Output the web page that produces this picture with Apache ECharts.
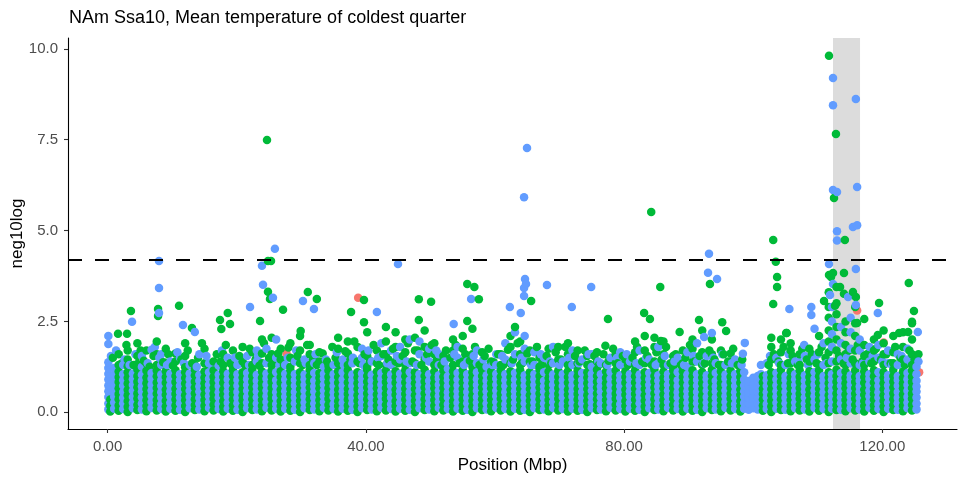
<!DOCTYPE html>
<html>
<head>
<meta charset="utf-8">
<script src="https://cdn.jsdelivr.net/npm/echarts@6/dist/echarts.min.js"></script>
<style>html,body{margin:0;padding:0;background:#fff}#c{width:958px;height:481px}</style>
</head>
<body>
<div id="c"></div>
<script>
// ---- data (Position in Mbp, neg10log) ----
const titleText = "NAm Ssa10, Mean temperature of coldest quarter";
const xTicks = [0, 40, 80, 120];
const yTicks = [0, 2.5, 5, 7.5, 10];
const threshold = 4.19;
const highlightRegion = [112.36, 116.55];

// dense band, green: [x, y1, y2, ...]
const greenCols = [
[0.4,0.02,0.18,0.35],
[1.7,0.04,0.19,0.36,0.5,0.66,0.83,0.97,1.12,1.3,1.6],
[3.1,0.01,0.15,0.31,0.47,0.62,0.79,0.95,1.1,1.27,1.45,1.7],
[4.6,0.06,0.21,0.38,0.52,0.69,0.84,1.0,1.18,1.33,1.55,1.9],
[6.0,0.03,0.17,0.33,0.49,0.64,0.8,0.96,1.14,1.35,1.7],
[7.6,0.05,0.2,0.34,0.51,0.67,0.82,0.99,1.15,1.3,1.6,1.95],
[9.0,0.02,0.16,0.32,0.48,0.63,0.81,0.97,1.13,1.36,1.75],
[10.5,0.04,0.19,0.35,0.5,0.65,0.83,1.0,1.16,1.4,1.62],
[12.0,0.01,0.17,0.33,0.47,0.64,0.79,0.95,1.1,1.24,1.55,1.9],
[13.5,0.06,0.2,0.36,0.52,0.68,0.84,1.01,1.17,1.3],
[15.0,0.03,0.18,0.34,0.49,0.66,0.8,0.96,1.12,1.35,1.75],
[16.4,0.05,0.21,0.37,0.51,0.67,0.83,0.98,1.15,1.4],
[17.9,0.02,0.15,0.31,0.48,0.63,0.81,0.97,1.13,1.3,1.6],
[19.4,0.04,0.19,0.35,0.5,0.65,0.82,0.99,1.16,1.25,1.7],
[20.9,0.01,0.16,0.33,0.47,0.64,0.8,0.96,1.1,1.4,1.8],
[22.4,0.06,0.2,0.36,0.52,0.68,0.84,1.0,1.17,1.3,1.65],
[23.9,0.03,0.18,0.34,0.49,0.66,0.8,0.95,1.12,1.35,1.62,2.0],
[25.4,0.05,0.21,0.37,0.51,0.67,0.83,0.98,1.15,1.3,1.6,2.05],
[26.8,0.02,0.17,0.31,0.48,0.63,0.81,0.97,1.13,1.45,1.75],
[28.3,0.04,0.19,0.35,0.5,0.65,0.82,0.99,1.16,1.25,1.5,1.9],
[29.8,0.01,0.16,0.32,0.47,0.64,0.8,0.96,1.1,1.35,1.7,2.1],
[31.3,0.06,0.2,0.36,0.52,0.68,0.84,1.0,1.17,1.3,1.6,1.85],
[32.8,0.03,0.18,0.33,0.49,0.66,0.8,0.95,1.08,1.4,1.65],
[34.2,0.05,0.21,0.37,0.51,0.67,0.83,0.98,1.15,1.28],
[35.7,0.02,0.17,0.31,0.48,0.63,0.81,0.97,1.13,1.35,1.75,2.05],
[37.2,0.04,0.19,0.35,0.5,0.65,0.82,0.99,1.16,1.3,1.62,1.95],
[38.7,0.01,0.16,0.32,0.47,0.64,0.8,0.96,1.1,1.4,1.8],
[40.2,0.06,0.2,0.36,0.52,0.68,0.84,1.0,1.17,1.25,1.55,2.2],
[41.7,0.03,0.18,0.34,0.49,0.66,0.8,0.95,1.12,1.35,1.7],
[43.1,0.05,0.21,0.37,0.51,0.67,0.83,0.98,1.15,1.3,1.6,1.95,2.35],
[44.6,0.02,0.17,0.31,0.48,0.63,0.81,0.97,1.13,1.4,1.8,2.2],
[46.1,0.04,0.19,0.35,0.5,0.65,0.82,0.99,1.16,1.3,1.65,2.0],
[47.6,0.01,0.16,0.32,0.47,0.64,0.8,0.96,1.1,1.35,1.7,2.05],
[49.1,0.06,0.2,0.36,0.52,0.68,0.84,1.0,1.17,1.45,1.8,2.25],
[50.6,0.03,0.18,0.34,0.49,0.66,0.8,0.95,1.12,1.3,1.6,1.9],
[52.0,0.05,0.21,0.37,0.51,0.67,0.83,0.98,1.15,1.28,1.55],
[53.5,0.02,0.17,0.31,0.48,0.63,0.81,0.97,1.13,1.3,1.7,2.0],
[55.0,0.04,0.19,0.35,0.5,0.65,0.82,0.99,1.16,1.4,1.75,2.1],
[56.5,0.01,0.16,0.32,0.47,0.64,0.8,0.96,1.1,1.25,1.6,2.3],
[58.0,0.06,0.2,0.36,0.52,0.68,0.84,1.0,1.17,1.35,1.65],
[59.4,0.03,0.18,0.34,0.49,0.66,0.8,0.95,1.12,1.4],
[60.9,0.05,0.21,0.37,0.51,0.67,0.83,0.98,1.15,1.3,1.6],
[62.4,0.02,0.17,0.31,0.48,0.63,0.81,0.97,1.13,1.35,1.8,2.1],
[63.9,0.04,0.19,0.35,0.5,0.65,0.82,0.99,1.16,1.3,1.6,1.95],
[65.4,0.01,0.16,0.32,0.47,0.64,0.8,0.96,1.1,1.4,1.7],
[66.9,0.06,0.2,0.36,0.52,0.68,0.84,1.0,1.17,1.25,1.5],
[68.3,0.03,0.18,0.34,0.49,0.66,0.8,0.95,1.12,1.3,1.75],
[69.8,0.05,0.21,0.37,0.51,0.67,0.83,0.98,1.15,1.45,1.8],
[71.3,0.02,0.17,0.31,0.48,0.63,0.81,0.97,1.13,1.3,1.6,1.9],
[72.8,0.04,0.19,0.35,0.5,0.65,0.82,0.99,1.16,1.35,1.7],
[74.3,0.01,0.16,0.32,0.47,0.64,0.8,0.96,1.1,1.3,1.55],
[75.8,0.06,0.2,0.36,0.52,0.68,0.84,1.0,1.17,1.4,1.65],
[77.2,0.03,0.18,0.34,0.49,0.66,0.8,0.95,1.12,1.3],
[78.7,0.05,0.21,0.37,0.51,0.67,0.83,0.98,1.15,1.35,1.6],
[80.2,0.02,0.17,0.31,0.48,0.63,0.81,0.97,1.13,1.45],
[81.7,0.04,0.19,0.35,0.5,0.65,0.82,0.99,1.16,1.3,1.65,1.95],
[83.2,0.01,0.16,0.32,0.47,0.64,0.8,0.96,1.1,1.35,1.7,2.1],
[84.7,0.06,0.2,0.36,0.52,0.68,0.84,1.0,1.17,1.4,1.8,2.05],
[86.1,0.03,0.18,0.34,0.49,0.66,0.8,0.95,1.12,1.3,1.6,1.95],
[87.6,0.05,0.21,0.37,0.51,0.67,0.83,0.98,1.15,1.25,1.55],
[89.1,0.02,0.17,0.31,0.48,0.63,0.81,0.97,1.13,1.35,1.7],
[90.6,0.04,0.19,0.35,0.5,0.65,0.82,0.99,1.16,1.4,1.75,2.0],
[92.1,0.01,0.16,0.32,0.47,0.64,0.8,0.96,1.1,1.3,1.65,2.25],
[93.6,0.06,0.2,0.36,0.52,0.68,0.84,1.0,1.17,1.35,1.6,2.0],
[95.0,0.03,0.18,0.34,0.49,0.66,0.8,0.95,1.12,1.3,1.7],
[96.5,0.05,0.21,0.37,0.51,0.67,0.83,0.98,1.15,1.4,1.62],
[98.0,0.02,0.17,0.31,0.48,0.63,0.81,0.97,1.13],
[101.5,0.04,0.19,0.35,0.5,0.65,0.82,0.99],
[102.8,0.01,0.16,0.32,0.47,0.64,0.8,0.96,1.1,1.45,1.8,2.05],
[104.3,0.06,0.2,0.36,0.52,0.68,0.84,1.0,1.17,1.3,1.65,2.0],
[105.8,0.03,0.18,0.34,0.49,0.66,0.8,0.95,1.12,1.35,1.7,1.9],
[107.2,0.05,0.21,0.37,0.51,0.67,0.83,0.98,1.15,1.3,1.6],
[108.7,0.02,0.17,0.31,0.48,0.63,0.81,0.97,1.13,1.4,1.75],
[110.2,0.04,0.19,0.35,0.5,0.65,0.82,0.99,1.16,1.3,1.65,2.1],
[111.7,0.01,0.16,0.32,0.47,0.64,0.8,0.96,1.1,1.35,1.65,1.95,2.25,2.6,2.9,3.3],
[112.9,0.06,0.2,0.36,0.52,0.68,0.84,1.0,1.17,1.4,1.7,2.0,2.35,2.7,3.0,3.45],
[114.3,0.03,0.18,0.34,0.49,0.66,0.8,0.95,1.12,1.3,1.6,1.85,2.2,2.5],
[115.8,0.05,0.21,0.37,0.51,0.67,0.83,0.98,1.15,1.35,1.7,2.1,2.45,2.9],
[117.2,0.02,0.17,0.31,0.48,0.63,0.81,0.97,1.13,1.3,1.55,1.85],
[118.7,0.04,0.19,0.35,0.5,0.65,0.82,0.99,1.16,1.4,1.7,2.0],
[120.2,0.01,0.16,0.32,0.47,0.64,0.8,0.96,1.1,1.3,1.6,1.9,2.25],
[121.7,0.06,0.2,0.36,0.52,0.68,0.84,1.0,1.17,1.35,1.65,2.1],
[123.2,0.03,0.18,0.34,0.49,0.66,0.8,0.95,1.12,1.45,1.8,2.2],
[124.6,0.05,0.21,0.37,0.51,0.67,0.83,0.98,1.15,1.3,1.6,2.0,2.45]
];

// dense band, blue: [x, y1, y2, ...]
const blueCols = [
[0.1,0.08,0.24,0.42,0.58,0.74,0.9,1.06,1.22,1.38,1.88,2.1],
[1.0,0.1,0.27,0.43,0.57,0.72,0.89,1.04,1.22],
[2.4,0.09,0.25,0.4,0.56,0.73,0.88,1.05,1.3],
[3.9,0.11,0.26,0.42,0.59,0.75,0.91,1.07],
[5.3,0.08,0.24,0.41,0.57,0.71,0.87,1.03,1.25,1.55],
[6.8,0.12,0.28,0.44,0.6,0.76,0.92,1.08,1.72],
[8.3,0.09,0.23,0.4,0.55,0.72,0.88,1.04,1.3,1.6],
[9.7,0.1,0.26,0.43,0.58,0.74,0.9,1.06,1.4],
[11.2,0.07,0.25,0.41,0.56,0.73,0.89,1.05,1.5],
[12.7,0.11,0.27,0.42,0.59,0.75,0.91,1.07,1.3],
[14.2,0.08,0.24,0.4,0.57,0.71,0.87,1.03,1.6],
[15.7,0.12,0.28,0.44,0.6,0.76,0.92,1.1,1.35],
[17.2,0.09,0.23,0.41,0.55,0.72,0.88,1.04,1.28],
[18.6,0.1,0.26,0.43,0.58,0.74,0.9,1.06,1.5],
[20.1,0.07,0.25,0.4,0.56,0.73,0.89,1.05,1.3],
[21.6,0.11,0.27,0.42,0.59,0.75,0.91,1.08,1.55],
[23.1,0.08,0.24,0.41,0.57,0.71,0.87,1.03,1.4,1.7],
[24.6,0.12,0.28,0.44,0.6,0.76,0.92,1.07,1.35,1.75],
[26.1,0.09,0.23,0.4,0.55,0.72,0.88,1.1,1.5,2.0],
[27.5,0.1,0.26,0.43,0.58,0.74,0.9,1.06,1.3],
[29.0,0.07,0.25,0.41,0.56,0.73,0.89,1.05,1.4],
[30.5,0.11,0.27,0.42,0.59,0.75,0.91,1.04,1.45],
[32.0,0.08,0.24,0.4,0.57,0.71,0.87,1.08,1.35],
[33.5,0.12,0.28,0.44,0.6,0.76,0.92,1.06,1.25],
[35.0,0.09,0.23,0.41,0.55,0.72,0.88,1.05,1.3],
[36.4,0.1,0.26,0.43,0.58,0.74,0.9,1.1,1.45],
[37.9,0.07,0.25,0.4,0.56,0.73,0.89,1.04,1.35],
[39.4,0.11,0.27,0.42,0.59,0.75,0.91,1.07,1.5,1.75],
[40.9,0.08,0.24,0.41,0.57,0.71,0.87,1.03,1.4],
[42.4,0.12,0.28,0.44,0.6,0.76,0.92,1.08,1.55,1.9],
[43.9,0.09,0.23,0.4,0.55,0.72,0.88,1.04,1.3,1.7],
[45.3,0.1,0.26,0.43,0.58,0.74,0.9,1.06,1.45,1.8],
[46.8,0.07,0.25,0.41,0.56,0.73,0.89,1.1,1.35,2.0],
[48.3,0.11,0.27,0.42,0.59,0.75,0.91,1.05,1.6,1.95],
[49.8,0.08,0.24,0.4,0.57,0.71,0.87,1.05,1.4,1.75],
[51.3,0.12,0.28,0.44,0.6,0.76,0.92,1.02,1.3,1.6],
[52.7,0.09,0.23,0.41,0.55,0.72,0.88,1.0,1.2],
[54.2,0.1,0.26,0.43,0.58,0.74,0.9,1.08,1.5,1.8],
[55.7,0.07,0.25,0.4,0.56,0.73,0.89,1.05,1.4],
[57.2,0.11,0.27,0.42,0.59,0.75,0.91,1.1,1.35,1.7],
[58.7,0.08,0.24,0.41,0.57,0.71,0.87,1.02,1.25],
[60.2,0.12,0.28,0.44,0.6,0.76,0.92,1.06,1.3,1.6],
[61.6,0.09,0.23,0.4,0.55,0.72,0.88,1.05,1.45,1.9],
[63.1,0.1,0.26,0.43,0.58,0.74,0.9,1.08,1.6,2.2],
[64.6,0.07,0.25,0.41,0.56,0.73,0.89,1.02,1.4,1.75,2.1],
[66.1,0.11,0.27,0.42,0.59,0.75,0.91,1.05,1.3,1.65],
[67.6,0.08,0.24,0.4,0.57,0.71,0.87,1.1,1.5],
[69.0,0.12,0.28,0.44,0.6,0.76,0.92,1.04,1.35,1.8],
[70.5,0.09,0.23,0.41,0.55,0.72,0.88,1.05,1.4],
[72.0,0.1,0.26,0.43,0.58,0.74,0.9,1.02,1.3,1.7],
[73.5,0.07,0.25,0.4,0.56,0.73,0.89,1.08,1.45],
[75.0,0.11,0.27,0.42,0.59,0.75,0.91,1.06,1.25,1.6],
[76.4,0.08,0.24,0.41,0.57,0.71,0.87,1.05,1.35],
[77.9,0.12,0.28,0.44,0.6,0.76,0.92,1.1,1.5],
[79.4,0.09,0.23,0.4,0.55,0.72,0.88,1.02,1.3,1.65],
[80.9,0.1,0.26,0.43,0.58,0.74,0.9,1.05,1.4],
[82.4,0.07,0.25,0.41,0.56,0.73,0.89,1.04,1.3,1.7],
[83.9,0.11,0.27,0.42,0.59,0.75,0.91,1.08,1.45],
[85.3,0.08,0.24,0.4,0.57,0.71,0.87,1.02,1.35,1.8],
[86.8,0.12,0.28,0.44,0.6,0.76,0.92,1.05,1.3],
[88.3,0.09,0.23,0.41,0.55,0.72,0.88,1.1,1.5],
[89.8,0.1,0.26,0.43,0.58,0.74,0.9,1.04,1.25,1.65],
[91.3,0.07,0.25,0.4,0.56,0.73,0.89,1.05,1.4,1.9],
[92.8,0.11,0.27,0.42,0.59,0.75,0.91,1.02,1.55],
[94.2,0.08,0.24,0.41,0.57,0.71,0.87,1.08,1.35],
[95.7,0.12,0.28,0.44,0.6,0.76,0.92,1.04,1.3],
[97.2,0.09,0.23,0.4,0.55,0.72,0.88,1.05,1.45],
[98.6,0.1,0.26,0.43,0.58,0.74,0.9,1.1],
[99.3,0.07,0.25,0.41,0.56,0.73,0.86],
[100.0,0.11,0.27,0.42,0.59,0.75,0.95],
[100.7,0.08,0.24,0.4,0.57,0.71,0.87,1.0],
[101.2,0.12,0.28,0.44,0.6,0.76,0.92,1.05,1.3],
[102.1,0.09,0.23,0.41,0.55,0.72,0.88,1.02,1.35],
[103.6,0.1,0.26,0.43,0.58,0.74,0.9,1.08,1.5],
[105.0,0.07,0.25,0.4,0.56,0.73,0.89,1.0,1.3],
[106.5,0.11,0.27,0.42,0.59,0.75,0.91,1.05,1.4],
[108.0,0.08,0.24,0.41,0.57,0.71,0.87,1.02,1.55],
[109.5,0.12,0.28,0.44,0.6,0.76,0.92,1.1,1.45,2.3],
[110.9,0.09,0.23,0.4,0.55,0.72,0.88,1.0,1.3,1.9],
[112.2,0.1,0.26,0.43,0.58,0.74,0.9,1.05,1.4,1.8,2.15,2.5,2.9],
[113.6,0.07,0.25,0.41,0.56,0.73,0.89,1.08,1.45,1.9,2.35],
[115.1,0.11,0.27,0.42,0.59,0.75,0.91,1.02,1.35,1.75,2.2,2.6],
[116.5,0.08,0.24,0.4,0.57,0.71,0.87,1.0,1.3,1.7,2.0],
[118.0,0.12,0.28,0.44,0.6,0.76,0.92,1.05,1.4,1.8],
[119.4,0.09,0.23,0.41,0.55,0.72,0.88,1.1,1.5,1.85],
[120.9,0.1,0.26,0.43,0.58,0.74,0.9,1.02,1.35,1.7],
[122.4,0.07,0.25,0.4,0.56,0.73,0.89,1.0,1.3,1.6],
[123.9,0.11,0.27,0.42,0.59,0.75,0.91,1.08,1.45,1.75],
[125.3,0.08,0.24,0.41,0.57,0.71,0.87,1.05,1.25]
];

// upper part of the band (scattered, roughly 1.2 - 2.0)
const greenMid = [
[0.8,1.5],[2.2,1.35],[2.9,1.85],[4.0,1.3],[5.1,1.7],[5.6,1.42],[6.5,1.25],[7.1,1.55],[8.6,1.38],[9.4,1.6],
[10.1,1.28],[11.4,1.45],[12.4,1.7],[13.1,1.35],[14.0,1.5],[14.6,1.9],[15.6,1.3],[16.9,1.6],[17.5,1.4],[18.3,1.85],
[19.0,1.35],[20.4,1.55],[21.3,1.3],[22.0,1.75],[22.9,1.45],[23.5,1.28],[24.2,1.9],[25.0,1.5],[25.9,1.35],[26.4,1.62],
[27.3,1.3],[28.0,1.78],[28.9,1.42],[29.4,1.55],[30.2,1.3],[30.9,1.85],[31.8,1.45],[32.4,1.3],[33.3,1.62],[34.0,1.4],
[34.8,1.8],[35.3,1.5],[36.0,1.32],[36.8,1.68],[37.6,1.45],[38.2,1.95],[39.0,1.35],[39.8,1.6],[40.6,1.42],[41.2,1.85],
[42.0,1.3],[42.7,1.6],[43.5,1.45],[44.2,1.75],[45.0,1.35],[45.7,1.55],[46.5,1.9],[47.2,1.4],[48.0,1.7],[48.6,1.3],
[49.5,1.6],[50.2,1.85],[51.0,1.45],[51.7,1.3],[52.4,1.7],[53.1,1.5],[53.9,1.85],[54.5,1.35],[55.4,1.6],[56.1,1.42],
[56.9,1.8],[57.6,1.3],[58.4,1.55],[59.0,1.75],[59.8,1.38],[60.5,1.6],[61.3,1.3],[62.0,1.72],[62.8,1.45],[63.5,1.9],
[64.2,1.35],[65.0,1.62],[65.8,1.4],[66.5,1.8],[67.2,1.3],[68.0,1.55],[68.7,1.35],[69.4,1.65],[70.2,1.45],[70.9,1.8],
[71.7,1.3],[72.4,1.55],[73.1,1.4],[73.9,1.7],[74.7,1.32],[75.4,1.55],[76.1,1.3],[76.8,1.6],[77.6,1.42],[78.3,1.75],
[79.0,1.35],[79.8,1.55],[80.6,1.3],[81.3,1.5],[82.0,1.8],[82.8,1.4],[83.6,1.55],[84.3,1.3],[85.0,1.65],[85.8,1.45],
[86.5,1.8],[87.2,1.35],[88.0,1.6],[88.8,1.3],[89.5,1.5],[90.2,1.85],[90.9,1.4],[91.7,1.55],[92.5,1.35],[93.2,1.7],
[94.0,1.45],[94.7,1.3],[95.4,1.6],[96.1,1.4],[96.9,1.75],[97.6,1.3],[98.3,1.45],[102.4,1.3],[103.2,1.6],[103.9,1.4],
[104.7,1.8],[105.4,1.35],[106.1,1.55],[106.9,1.3],[107.6,1.75],[108.3,1.45],[109.1,1.6],[109.8,1.35],[110.6,1.8],[111.2,1.5],
[113.3,1.55],[114.0,1.35],[114.8,1.7],[115.4,1.45],[116.2,1.85],[116.9,1.4],[117.6,1.6],[118.3,1.35],[119.0,1.75],[119.8,1.45],
[120.6,1.6],[121.3,1.35],[122.0,1.8],[122.8,1.5],[123.5,1.3],[124.2,1.7],[125.0,1.45],[125.6,1.6]
];
const blueMid = [
[0.5,1.55],[1.3,1.7],[2.6,1.45],[3.4,1.3],[4.3,1.6],[6.2,1.35],[7.3,1.8],[8.0,1.5],[9.2,1.3],[10.8,1.65],
[11.8,1.35],[13.8,1.25],[15.3,1.55],[16.1,1.3],[17.7,1.7],[19.7,1.5],[20.7,1.35],[21.9,1.3],[23.3,1.55],[24.9,1.4],
[26.6,1.3],[27.9,1.5],[29.2,1.7],[30.7,1.35],[32.2,1.6],[33.8,1.45],[35.5,1.65],[36.6,1.3],[38.0,1.5],[39.6,1.3],
[40.4,1.7],[41.9,1.5],[43.3,1.35],[44.8,1.55],[46.3,1.4],[47.9,1.3],[49.3,1.5],[50.9,1.7],[52.2,1.4],[53.7,1.6],
[55.2,1.3],[56.7,1.55],[58.2,1.45],[59.6,1.3],[61.1,1.55],[62.6,1.35],[64.1,1.5],[65.6,1.3],[67.1,1.6],[68.5,1.4],
[70.0,1.3],[71.5,1.5],[73.0,1.35],[74.5,1.6],[76.0,1.4],[77.4,1.3],[78.9,1.5],[80.4,1.6],[81.9,1.35],[83.4,1.5],
[84.9,1.3],[86.3,1.55],[87.8,1.4],[89.3,1.3],[90.8,1.55],[92.3,1.35],[93.8,1.5],[95.2,1.6],[96.7,1.35],[98.2,1.3],
[102.6,1.55],[104.0,1.35],[105.5,1.6],[107.0,1.4],[108.5,1.3],[110.0,1.6],[111.4,1.35],[114.5,1.5],[117.0,1.35],[118.5,1.55],
[120.0,1.4],[121.5,1.3],[123.0,1.55],[124.5,1.35],[125.6,1.4]
];

// scattered higher points
const greenHigh = [
[111.74,9.81],[112.82,7.66],[112.52,5.90],[114.2,4.74],[111.74,3.78],[112.36,3.83],[114.06,3.83],[112.05,3.72],
[113.45,3.45],[114.06,3.26],[115.45,3.31],[115.9,3.17],[110.97,3.06],[112.67,2.93],[119.5,3.01],[124.9,2.79],
[124.1,3.56],[117.2,2.57],[116.1,2.46],[124.6,2.49],[119.3,2.13],[122.6,2.18],[124.0,2.21],[105.1,2.18],
[24.68,7.49],[24.83,4.16],[25.3,4.16],[24.83,3.32],[25.14,3.12],[27.16,2.82],[23.6,2.51],[31.0,3.31],[32.4,3.12],
[29.9,2.24],[3.6,2.79],[11.05,2.93],[7.8,2.84],[7.8,2.65],[18.6,2.73],[17.4,2.54],[17.6,2.29],[18.95,2.43],
[13.05,2.32],[1.6,2.16],[3.0,2.16],[37.7,2.76],[39.7,2.48],[39.7,3.09],[48.2,3.11],[50.1,3.04],[48.2,2.54],
[55.7,3.53],[56.8,3.45],[57.5,3.11],[55.7,2.51],[63.1,2.35],[65.6,3.06],[77.5,2.57],[77.1,1.83],[84.2,5.51],
[85.6,3.45],[83.1,2.73],[84.0,2.57],[91.6,2.54],[95.2,2.48],[95.8,2.24],[88.6,2.21],[93.3,3.53],[103.1,4.74],
[103.5,4.14],[103.7,3.72],[103.7,3.45],[103.1,2.98],[105.2,2.18],[85.7,1.96]
];
const blueHigh = [
[112.36,9.2],[112.36,8.45],[115.9,8.62],[112.36,6.12],[112.98,6.06],[116.1,6.2],[115.45,5.1],[116.1,5.15],
[112.98,4.98],[112.98,4.73],[111.74,4.08],[115.9,3.94],[112.36,3.53],[111.9,3.23],[114.7,3.17],[115.9,2.95],
[105.6,2.84],[109.0,2.9],[109.0,2.68],[119.3,2.73],[125.5,2.21],[107.9,1.85],[25.9,4.5],[23.9,4.03],[24.06,3.51],
[25.6,3.15],[22.05,2.9],[30.25,3.06],[31.95,2.84],[7.95,4.16],[7.95,3.42],[7.95,2.73],[3.77,2.49],[11.66,2.4],
[13.5,2.21],[64.96,7.27],[64.5,5.92],[44.97,4.08],[64.65,3.67],[64.8,3.53],[64.5,3.42],[68.05,3.5],[74.9,3.45],
[64.5,3.2],[56.3,3.12],[41.7,2.76],[53.6,2.43],[62.3,2.9],[71.9,2.9],[63.99,2.73],[93.15,4.36],[93.0,3.84],
[94.4,3.67],[93.6,2.18],[92.4,2.07],[98.7,1.91],[98.4,1.61]
];
const redPts = [
[27.7,1.62],[38.8,3.15],[116.1,2.8],[120.2,1.92],[125.7,1.1],[4.5,0.6],[12.0,0.2],[18.5,0.5],[24.3,0.15],
[29.5,0.45],[35.2,0.9],[41.2,0.3],[48.8,0.7],[55.6,0.25],[61.8,0.4],[67.2,0.8],[73.3,0.55],[79.1,0.35],
[86.4,0.65],[91.8,0.2],[97.5,0.5],[104.9,0.3],[110.5,0.7],[118.3,0.45],[123.5,0.9]
];

const GREEN = '#00BA38', BLUE = '#619CFF', RED = '#F8766D';

// build combined points, drawn in position order like ggplot
const pts = [];
greenCols.forEach(c => { for (let i = 1; i < c.length; i++) pts.push([c[0], c[i], GREEN]); });
blueCols.forEach(c => { for (let i = 1; i < c.length; i++) pts.push([c[0], c[i], BLUE]); });
greenMid.forEach(p => pts.push([p[0], p[1], GREEN]));
blueMid.forEach(p => pts.push([p[0], p[1], BLUE]));
greenHigh.forEach(p => pts.push([p[0], p[1], GREEN]));
blueHigh.forEach(p => pts.push([p[0], p[1], BLUE]));
pts.sort((a, b) => a[0] - b[0]);
const mainData = pts.map(p => ({ value: [p[0], p[1]], itemStyle: { color: p[2] } }));

const FONT = "'Liberation Sans', Arial, sans-serif";
const chart = echarts.init(document.getElementById('c'), null, { renderer: 'canvas' });
chart.setOption({
  animation: false,
  backgroundColor: '#ffffff',
  title: {
    text: titleText, left: 64, top: 4,
    textStyle: { fontFamily: FONT, fontSize: 18, fontWeight: 'normal', color: '#000' }
  },
  grid: { left: 68, right: 1, top: 38, bottom: 52, containLabel: false, outerBoundsMode: 'none' },
  xAxis: {
    type: 'value', min: -6.15, max: 131.57,
    name: 'Position (Mbp)', nameLocation: 'middle', nameGap: 28, nameMoveOverlap: false,
    nameTextStyle: { fontFamily: FONT, fontSize: 17, color: '#000' },
    axisLine: { show: true, onZero: false, lineStyle: { color: '#000', width: 1.1 } },
    axisTick: { show: true, length: 4, customValues: xTicks, lineStyle: { color: '#333', width: 1.1 } },
    axisLabel: { customValues: xTicks, formatter: v => v.toFixed(2), color: '#4D4D4D', fontFamily: FONT, fontSize: 15, margin: 10 },
    splitLine: { show: false }
  },
  yAxis: {
    type: 'value', min: -0.46, max: 10.30,
    name: 'neg10log', nameLocation: 'middle', nameGap: 42, nameRotate: 90, nameMoveOverlap: false,
    nameTextStyle: { fontFamily: FONT, fontSize: 17, color: '#000' },
    axisLine: { show: true, onZero: false, lineStyle: { color: '#000', width: 1.1 } },
    axisTick: { show: true, length: 4, customValues: yTicks, lineStyle: { color: '#333', width: 1.1 } },
    axisLabel: { customValues: yTicks, formatter: v => v.toFixed(1), color: '#4D4D4D', fontFamily: FONT, fontSize: 15, margin: 10 },
    splitLine: { show: false }
  },
  series: [
    {
      type: 'scatter', data: [], z: 1, silent: true,
      markArea: {
        silent: true, itemStyle: { color: '#DCDCDC', opacity: 1 },
        data: [[{ xAxis: highlightRegion[0] }, { xAxis: highlightRegion[1] }]]
      }
    },
    {
      type: 'scatter', data: redPts, z: 2, symbolSize: 8.5, silent: true,
      itemStyle: { color: RED, opacity: 1 }
    },
    {
      type: 'scatter', data: mainData, z: 3, symbolSize: 8.5, silent: true, large: false,
      itemStyle: { opacity: 1 }
    },
    {
      type: 'scatter', data: [], z: 4, silent: true,
      markLine: {
        silent: true, symbol: ['none', 'none'], label: { show: false },
        lineStyle: { color: '#000', width: 2.2, type: [14, 13] },
        data: [{ yAxis: threshold }]
      }
    }
  ]
});
</script>
</body>
</html>
